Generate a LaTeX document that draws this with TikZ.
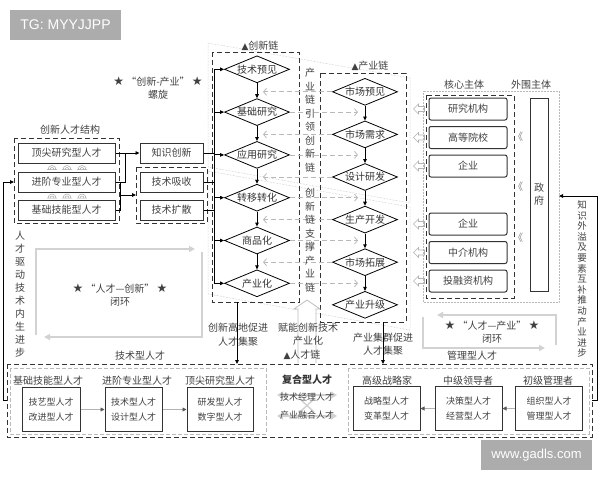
\documentclass[tikz,border=0pt]{standalone}
\usepackage{fontspec}
\setmainfont{Noto Sans CJK SC}
\newfontfamily\symf{DejaVu Sans}
\newfontfamily\wmf{Liberation Sans}
\usetikzlibrary{shapes.geometric,arrows.meta}
\newcommand{\bstar}{{\symf\fontsize{12}{12}\selectfont ★}}
\newcommand{\tri}{{\symf\small ▲}}
\begin{document}
\begin{tikzpicture}[x=1pt,y=-1pt,font=\fontsize{10}{13}\selectfont,
  box/.style={draw=black!80,line width=1pt,text=black!75,inner sep=0pt,minimum height=20pt},
  corebox/.style={box,rounded corners=2pt,minimum width=78pt,minimum height=22pt},
  diabox/.style={draw,diamond,aspect=2.4,inner sep=0pt,minimum width=65pt,minimum height=27pt,line width=0.8pt,text=black!80},
  lowbox/.style={box,minimum height=44pt,align=center,font=\fontsize{9}{15}\selectfont},
  grp/.style={draw=black!80,line width=1pt,dash pattern=on 5pt off 3pt},
  subgrp/.style={draw=gray!55,line width=0.7pt,dash pattern=on 4pt off 2pt},
  dots/.style={draw=gray!55,line width=0.5pt,densely dotted},
  conn/.style={draw=black,line width=0.9pt},
  arr/.style={-{Triangle[length=4pt,width=3.5pt]}},
  garr/.style={draw=gray!60,line width=0.9pt,-{Triangle[length=4pt,width=4pt,color=black!65]}},
  hint/.style={draw=gray!55,line width=0.8pt,dash pattern=on 5pt off 3pt,-{Straight Barb[length=3pt,width=7pt]}},
  ring/.style={draw=gray!35,line width=1.6pt,-{Triangle[length=6pt,width=6pt]}},
  dbl/.style={draw=gray!35,line width=2.2pt,{Triangle[length=6pt,width=7pt]}-{Triangle[length=6pt,width=7pt]}},
  lab/.style={text=black!75},
  vtext/.style={align=center,text=black!75}]
\useasboundingbox (0,0) rectangle (600,480);

% watermarks
\node[fill=gray!65,text=white,minimum width=111pt,minimum height=30pt,font=\wmf\fontsize{14}{14}\selectfont] (tg) at (65.5,25) {TG: MYYJJPP};
\node[fill=gray!65,text=white,minimum width=111pt,minimum height=30pt,font=\wmf\fontsize{13}{13}\selectfont] (web) at (536.5,455) {www.gadls.com};

% spiral planes
\draw[dots] (208,43) -- (410,78) -- (410,203) -- (208,167) -- cycle;
\draw[dots] (208,171) -- (410,207) -- (410,330) -- (208,294) -- cycle;
\node[vtext] (spiral) at (158,88.5) {\bstar\ “创新-产业”\ \bstar\\螺旋};

% talent structure
\node[lab] (talstr) at (70,130) {创新人才结构};
\draw[grp] (14,138) rectangle (119,223);
\node[box,minimum width=97pt] (t1) at (66.5,153) {顶尖研究型人才};
\node[box,minimum width=97pt] (t2) at (66.5,182) {进阶专业型人才};
\node[box,minimum width=97pt] (t3) at (66.5,210) {基础技能型人才};
\foreach \x in {52,67,82}
  \foreach \y in {167.5,196}
    \draw[gray!70,line width=0.5pt] (\x-5,\y+2) -- (\x+5,\y+2)
      (\x-4,\y+2) arc[start angle=180,end angle=360,radius=4]
      (\x-2,\y+2) arc[start angle=180,end angle=360,radius=2];

% knowledge and technology
\draw[grp] (136,167) rectangle (207,223);
\node[box,minimum width=63pt] (know) at (171.5,153) {知识创新};
\node[box,minimum width=63pt] (absb) at (171.5,182) {技术吸收};
\node[box,minimum width=63pt] (diff) at (171.5,210) {技术扩散};
\coordinate (tgrp) at (136,195);
\draw[conn,arr] (t1) -- (know);
\draw[conn] (t2.east) -| (125,153);
\draw[conn] (t3.east) -| (120,182);
\draw[conn,arr] (120,195) -- (tgrp);

% innovation chain
\node[lab] (innlab) at (260,46) {\tri{}创新链};
\draw[grp] (212,52) rectangle (299,302);
\foreach \t [count=\i] in {技术预见,基础研究,应用研究,转移转化,商品化,产业化}
  \node[diabox] (i\i) at (257,26.5+42.8*\i) {\t};
\foreach \i/\j in {1/2,2/3,3/4,4/5,5/6}
  \draw[conn,arr] (i\i) -- (i\j);
\coordinate (bus) at (214,0);
\draw[conn] (i1.west -| bus) -- (i6.west -| bus);
\foreach \i in {1,...,6}
  \draw[conn,arr] (i\i.west -| bus) -- (i\i.west);
\foreach \n in {know,absb,diff}
  \draw[conn] (\n.east) -- (\n.east -| bus);

% industrial chain
\node[lab] (indlab) at (370,66) {\tri{}产业链};
\draw[grp] (320,73) rectangle (406,322);
\foreach \t [count=\i] in {市场预见,市场需求,设计研发,生产开发,市场拓展,产业升级}
  \node[diabox] (p\i) at (365,49.2+42.6*\i) {\t};
\foreach \i/\j in {1/2,2/3,3/4,4/5,5/6}
  \draw[conn,arr] (p\i) -- (p\j);

% cross guidance
\coordinate (hl) at (263,0);
\coordinate (hr) at (358,0);
\foreach \i in {1,...,5}
  \draw[hint] (p\i.west) -- (p\i.west -| hl);
\foreach \i in {2,...,6}
  \draw[hint] (i\i.east) -- (i\i.east -| hr);
\node[vtext,font=\fontsize{10}{13.5}\selectfont] (lead) at (310,120) {产\\业\\链\\引\\领\\创\\新\\链};
\node[vtext,font=\fontsize{10}{13.5}\selectfont] (supp) at (310,240) {创\\新\\链\\支\\撑\\产\\业\\链};

% links down to talent chain
\draw[gray!50,line width=0.8pt,fill=white] (298,363) -- (298,309) -- (294,309) -- (307,300) -- (320,309) -- (316,309) -- (316,363);
\node[vtext,font=\fontsize{10}{14}\selectfont] (hub) at (238,335) {创新高地促进\\人才集聚};
\node[vtext,font=\fontsize{10}{13}\selectfont] (enab) at (308,334) {赋能创新技术\\产业化};
\node[lab] (tallab) at (302,355) {\tri{}人才链};
\node[vtext,font=\fontsize{10}{13}\selectfont] (clus) at (383,344) {产业集群促进\\人才集聚};
\coordinate (innbot) at (237,302);
\coordinate (lowin) at (237,364);
\draw[conn,arr] (innbot) -- (lowin);
\coordinate (indbot) at (383,322);
\coordinate (lowind) at (383,364);
\draw[conn,arr] (indbot) -- (lowind);

% core and periphery
\node[lab] (coretit) at (464,85) {核心主体};
\node[lab] (outtit) at (531,85) {外围主体};
\draw[dots] (423,91) rectangle (559,302);
\draw[grp] (426,95) rectangle (514,298);
\foreach \t/\y [count=\i] in {研究机构/109,高等院校/137.5,企业/166,企业/224,中介机构/252.5,投融资机构/281}
  \node[corebox] (c\i) at (468,\y) {\t};
\foreach \i in {1,...,6}
  \draw[gray!60,line width=0.6pt] (c\i.west) ++(-15,0) -- ++(5,-5) -- ++(0,2.5) -- ++(6,0)
    -- ++(0,5) -- ++(-6,0) -- ++(0,2.5) -- cycle;
\node[box,minimum width=18pt,minimum height=193pt,align=center] (gov) at (539,194.5) {政\\府};
\foreach \y [count=\i] in {137,187,238}
  \node[text=gray] (q\i) at (518,\y) {《};

% feedback lines
\coordinate (outR) at (592,400);
\coordinate (perR) at (559,196);
\draw[conn,arr] (outR) -- ++(5,0) |- (perR);
\coordinate (outL) at (7,400);
\coordinate (grpL) at (14,182);
\draw[conn,arr] (outL) -- ++(-4,0) |- (grpL);
\node[vtext,font=\fontsize{9.5}{10.6}\selectfont] (spill) at (582,279) {知\\识\\外\\溢\\及\\要\\素\\互\\补\\推\\动\\产\\业\\进\\步};
\node[vtext] (drive) at (20,294) {人\\才\\驱\\动\\技\\术\\内\\生\\进\\步};

% closed loops
\draw[ring] (36,335) -- (36,249) -- (195,249);
\draw[ring] (202,252) -- (202,337) -- (44,337);
\node[vtext] (loop1) at (120,295.5) {\bstar\ “人才—创新”\ \bstar\\闭环};
\draw[ring] (556,345) -- (556,315) -- (437,315);
\draw[ring] (423,317) -- (423,348) -- (545,348);
\node[vtext] (loop2) at (492,332.5) {\bstar\ “人才—产业”\ \bstar\\闭环};

% talent chain
\draw[grp] (7,364) rectangle (592,437);
\node[lab] (techlab) at (140,356) {技术型人才};
\node[lab] (mgtlab) at (472,356) {管理型人才};
\draw[subgrp] (10,368) rectangle (266,434);
\draw[subgrp] (348,368) rectangle (589,434);
\node[lab] (kl1) at (48,381) {基础技能型人才};
\node[lab] (kl2) at (137,381) {进阶专业型人才};
\node[lab] (kl3) at (220,381) {顶尖研究型人才};
\node[lowbox,minimum width=58pt] (k1) at (51,409.5) {技艺型人才\\改进型人才};
\node[lowbox,minimum width=57pt] (k2) at (133.5,409.5) {技术型人才\\设计型人才};
\node[lowbox,minimum width=66pt] (k3) at (220,409.5) {研发型人才\\数字型人才};
\draw[garr] (k1) -- (k2);
\draw[garr] (k2) -- (k3);
\node[lab] (ml1) at (387,381) {高级战略家};
\node[lab] (ml2) at (468,381) {中级领导者};
\node[lab] (ml3) at (548,381) {初级管理者};
\node[lowbox,minimum width=67pt] (m1) at (386.5,408.5) {战略型人才\\变革型人才};
\node[lowbox,minimum width=67pt] (m2) at (468.5,408.5) {决策型人才\\经营型人才};
\node[lowbox,minimum width=67pt] (m3) at (549,408.5) {组织型人才\\管理型人才};
\draw[garr] (m3) -- (m2);
\draw[garr] (m2) -- (m1);

% composite talent
\draw[dbl] (277,395) -- (337,395);
\draw[dbl] (277,416) -- (337,416);
\draw[gray!35,line width=1.5pt] (300,399) -- (314,412) (314,399) -- (300,412);
\node[font=\bfseries\fontsize{10}{12}\selectfont,text=black!80] (mix) at (307,380) {复合型人才};
\node[lab,font=\fontsize{9}{11}\selectfont] (mixa) at (307,397) {技术经理人才};
\node[lab,font=\fontsize{9}{11}\selectfont] (mixb) at (307,415) {产业融合人才};
\end{tikzpicture}
\end{document}
